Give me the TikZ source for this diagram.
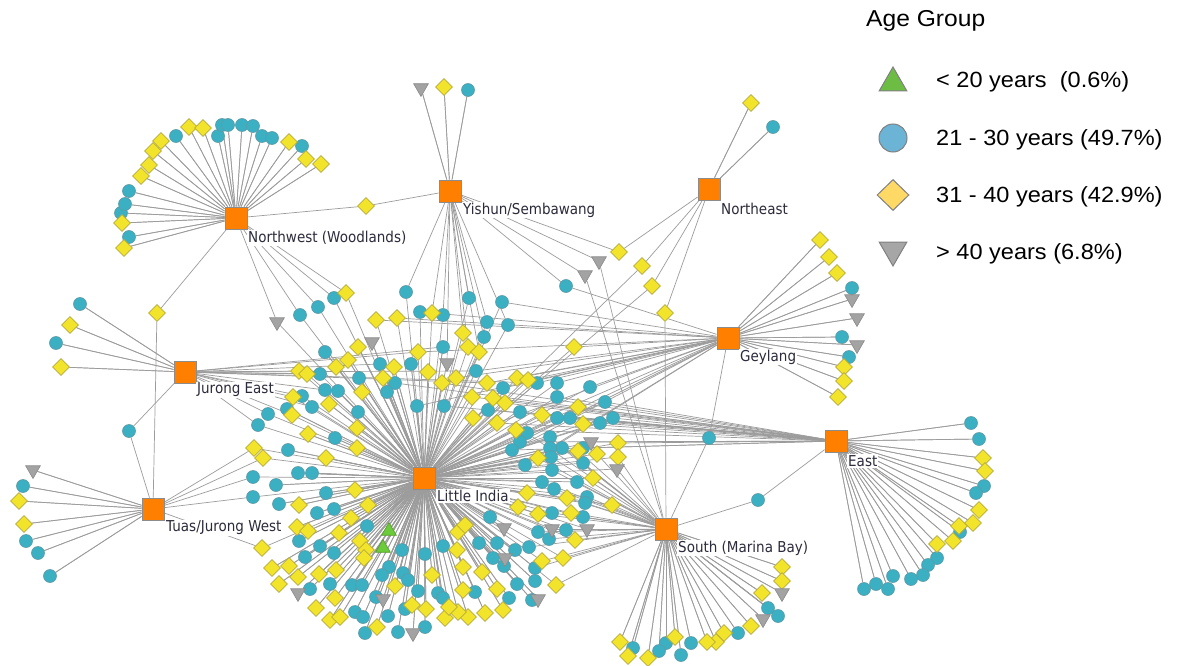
\documentclass[tikz,border=0pt]{standalone}
\usepackage{fontspec}
\usetikzlibrary{shapes.geometric}
\newfontfamily\lblfont{DejaVu Sans}[FakeStretch=0.9]
\newfontfamily\legfont{Liberation Sans}[FakeStretch=1.07]
\definecolor{hubor}{HTML}{FF8000}
\definecolor{hubbd}{HTML}{8C8C8C}
\definecolor{tealc}{HTML}{3BB0C3}
\definecolor{tealbd}{HTML}{5E9AA6}
\definecolor{yelc}{HTML}{F2E32B}
\definecolor{yelbd}{HTML}{B8AC3A}
\definecolor{grayc}{HTML}{A3A3A3}
\definecolor{graybd}{HTML}{8A8A8A}
\definecolor{greenc}{HTML}{6CCB3A}
\definecolor{greenbd}{HTML}{5A9A30}
\definecolor{edgec}{HTML}{9C9C9C}
\definecolor{lblc}{HTML}{2B2B3B}
\definecolor{lgreen}{HTML}{6DBD45}
\definecolor{lblue}{HTML}{6CB4D5}
\definecolor{lyel}{HTML}{FFD966}
\definecolor{lgray}{HTML}{A6A6A6}
\definecolor{lbd}{HTML}{808080}
\pgfdeclarelayer{back}
\pgfdeclarelayer{edgelayer}
\pgfsetlayers{back,edgelayer,main}
\def\circlist{
406/292/li/ys, 334/298/li/nw, 318/307/li/nw, 300/315/li/nw, 420/312/li/ge, 443/315/li/ys, 469/298/li/ys,
443/347/li/li, 325/352/li/li, 380/364/li/li, 411/364/li/li, 320/374/li/je, 359/378/li/li, 395/383/li/li,
387/392/li/li, 476/371/li/ge, 325/390/li/je, 338/391/li/li, 302/396/li/je, 312/407/li/je, 417/406/li/li,
444/406/li/ea, 268/414/li/je, 287/409/li/li, 358/412/li/li, 258/425/li/je, 335/438/li/li, 288/450/li/li,
502/302/li/ge, 566/286/ys/ge,
253/477/li/tu, 276/485/li/li, 298/473/li/li, 312/473/li/li, 253/497/li/tu, 279/504/li/li, 326/493/li/li,
317/513/li/li, 334/509/li/li, 367/526/li/li, 299/541/li/li, 320/546/li/li, 334/553/li/li, 305/557/li/li,
402/550/li/li, 425/554/li/li, 443/546/li/li, 389/567/li/li, 382/575/li/li, 403/573/li/li, 408/580/li/li,
330/584/li/li, 352/585/li/li, 362/585/li/li, 310/589/li/li, 376/597/li/li, 418/591/li/li, 438/593/li/li,
443/598/li/li, 405/609/li/li, 355/612/li/li, 363/617/li/li, 388/616/li/li, 425/627/li/li, 398/632/li/li,
365/633/li/li, 475/592/li/li, 479/543/li/li,
509/598/li/li, 517/584/li/li, 535/568/li/so, 535/581/li/li, 532/600/li/li, 493/558/li/li, 504/566/li/li,
497/543/li/li, 515/550/li/li, 529/547/li/so,
487/322/li/ys, 508/325/li/ys, 484/337/li/ys, 488/410/li/ea, 537/383/li/ge, 557/383/li/ge, 590/387/li/ge,
557/397/li/ea, 503/388/li/li, 605/402/li/ea, 520/412/li/ea, 557/418/li/ea, 570/418/li/ea, 600/423/li/ea,
613/418/li/ea, 527/433/li/so, 550/437/li/so, 562/448/li/so, 550/448/li/li, 583/448/li/ea, 520/442/li/li,
512/450/li/li, 551/457/li/so, 583/463/li/so, 525/465/li/li, 552/470/li/so, 542/482/li/so, 554/489/li/so,
577/482/li/so, 587/497/li/so, 585/503/li/so, 583/517/li/so, 566/530/li/so, 552/513/li/so, 490/517/li/li,
538/532/li/so, 549/539/li/so,
709/438/ge/so, 758/500/so/ea, 129/431/je/tu,
129/237/nw/nw, 121/213/nw/nw, 125/204/nw/nw, 129/191/nw/nw, 176/136/nw/nw, 218/136/nw/nw, 222/125/nw/nw,
228/125/nw/nw, 242/125/nw/nw, 253/126/nw/nw, 262/136/nw/nw, 272/138/nw/nw, 302/146/nw/nw,
468/90/ys/ys, 773/127/ne/ne,
852/288/ge/ge, 842/337/ge/ge, 849/357/ge/ge,
971/423/ea/ea, 979/439/ea/ea, 984/486/ea/ea, 976/493/ea/ea, 960/532/ea/ea, 937/558/ea/ea, 928/565/ea/ea,
923/575/ea/ea, 911/579/ea/ea, 893/576/ea/ea, 888/589/ea/ea, 876/584/ea/ea, 864/589/ea/ea,
768/608/so/so, 778/616/so/so, 738/633/so/so, 691/643/so/so, 681/655/so/so, 666/643/so/so, 659/651/so/so,
633/648/so/so,
80/304/je/je, 56/343/je/je,
23/486/tu/tu, 26/541/tu/tu, 38/553/tu/tu, 50/576/tu/tu}
\def\diamlist{
346/293/li/nw, 376/320/li/ge, 397/318/li/ge, 432/313/li/ys, 463/333/li/ys, 468/347/li/ys, 479/352/li/ys,
358/347/li/li, 348/360/li/li, 336/367/li/li, 299/371/li/je, 307/374/li/je, 394/367/li/li, 418/352/li/ge,
428/372/li/li, 383/378/li/li, 442/383/li/li, 456/378/li/ge, 362/392/li/li, 293/397/li/je, 472/397/li/ea,
329/404/li/li, 292/415/li/je, 473/418/li/li, 357/428/li/li, 308/434/li/li, 254/448/li/tu, 263/458/li/tu,
357/448/li/li, 326/458/li/li,
355/490/li/li, 368/505/li/li, 299/505/li/li, 351/518/li/li, 339/533/li/li, 297/527/li/li, 308/531/li/li,
360/541/li/li, 262/548/li/tu, 366/550/li/li, 364/558/li/li, 272/568/li/li, 289/566/li/li, 298/577/li/li,
319/574/li/li, 336/570/li/li, 279/584/li/li, 335/598/li/li, 316/608/li/li, 330/620/li/li, 340/617/li/li,
395/586/li/li, 377/627/li/li, 412/605/li/li, 426/609/li/li, 432/575/li/li, 458/532/li/li, 465/525/li/li,
457/550/li/li, 463/567/li/li, 463/590/li/li, 468/617/li/li, 458/612/li/li, 445/618/li/li, 449/607/li/li,
482/572/li/li, 497/589/li/li, 503/610/li/li, 485/613/li/li, 542/561/li/so, 563/558/li/so, 556/585/li/so,
665/313/ne/so, 574/347/li/ge, 487/383/li/ge, 517/378/li/ge, 528/380/li/ge, 493/398/li/ea, 505/403/li/ea,
542/415/li/ea, 578/407/li/ea, 583/424/li/ea, 497/423/li/li, 516/430/li/li, 538/458/li/so, 578/451/li/so,
597/454/li/so, 593/478/li/so, 618/443/li/ea, 618/457/li/so, 527/493/li/li, 518/507/li/li, 538/514/li/so,
567/498/li/so, 571/513/li/so, 612/505/li/so, 575/540/li/so,
619/252/ys/ne, 642/266/ne/li, 652/286/ne/li, 366/206/nw/ys, 157/313/nw/tu,
124/248/nw/nw, 122/223/nw/nw, 141/176/nw/nw, 149/165/nw/nw, 153/151/nw/nw, 161/141/nw/nw, 189/127/nw/nw,
203/128/nw/nw, 289/142/nw/nw, 306/159/nw/nw, 321/164/nw/nw,
444/87/ys/ys, 751/103/ne/ne,
820/240/ge/ge, 829/257/ge/ge, 837/273/ge/ge, 844/367/ge/ge, 844/381/ge/ge, 838/397/ge/ge,
983/458/ea/ea, 985/471/ea/ea, 979/510/ea/ea, 973/523/ea/ea, 959/526/ea/ea, 953/541/ea/ea, 937/544/ea/ea,
782/567/so/so, 782/581/so/so, 762/593/so/so, 751/626/so/so, 724/633/so/so, 716/642/so/so, 707/642/so/so,
675/637/so/so, 648/658/so/so, 628/656/so/so, 620/642/so/so,
70/325/je/je, 61/367/je/je,
19/501/tu/tu, 24/524/tu/tu}
\def\trilist{
277/322/nw/li, 372/342/li/li, 447/363/li/ys, 585/275/ys/so, 599/261/ys/so, 591/442/li/ea, 617/469/li/so,
587/529/li/so, 504/528/li/li, 552/529/li/so, 505/558/li/li, 538/599/li/li, 298/593/li/li, 383/599/li/li,
413/633/li/li, 421/88/ys/ys, 852/299/ge/ge, 857/318/ge/ge, 857/345/ge/ge, 782/593/so/so, 763/619/so/so,
33/470/tu/tu}
\def\greenlist{389/531/li/li, 383/548/li/li}
\def\extralist{je/c8, je/d14, je/c16, je/d75, je/c83, je/c10,
ge/c94, ge/c97, ge/c99, ge/c100, ge/c103, ge/d83, ge/d84, ge/c87, ge/c21,
ea/d83, ea/d84, ea/c99, ea/c100, ea/c14, ea/d17}
\begin{document}
\begin{tikzpicture}[x=1pt,y=-1pt,
  edge/.style={draw=edgec, line width=0.7pt},
  hubbox/.style={rectangle, fill=hubor, draw=hubbd, line width=0.8pt, minimum size=22pt, inner sep=0pt},
  circ/.style={circle, fill=tealc, draw=tealbd, line width=0.6pt, minimum size=13pt, inner sep=0pt},
  diam/.style={diamond, fill=yelc, draw=yelbd, line width=0.6pt, minimum size=17pt, inner sep=0pt},
  tridown/.style={regular polygon, regular polygon sides=3, shape border rotate=180, fill=grayc, draw=graybd, line width=0.6pt, minimum size=17pt, inner sep=0pt},
  triup/.style={regular polygon, regular polygon sides=3, fill=greenc, draw=greenbd, line width=0.6pt, minimum size=17pt, inner sep=0pt},
  lbl/.style={font=\lblfont\fontsize{15}{18}\selectfont, text=lblc, fill=white, inner sep=1pt, anchor=west},
  legtxt/.style={font=\legfont\fontsize{22}{26}\selectfont, text=black, inner sep=0pt, anchor=west},
  legshape/.style={draw=lbd, line width=1pt, inner sep=0pt}
]
\begin{pgfonlayer}{back}
\fill[white] (0,0) rectangle (1178,666);
\end{pgfonlayer}
\useasboundingbox (0,0) rectangle (1178,666);

% hubs
\node[hubbox] (nw) at (236,218) {};
\node[hubbox] (ys) at (450,191) {};
\node[hubbox] (ne) at (709,189) {};
\node[hubbox] (ge) at (728,338) {};
\node[hubbox] (je) at (185,372) {};
\node[hubbox] (ea) at (836,441) {};
\node[hubbox] (li) at (424,478) {};
\node[hubbox] (tu) at (153,509) {};
\node[hubbox] (so) at (666,529) {};

% leaf nodes
\foreach \x/\y/\p/\q [count=\i] in \circlist {\node[circ] (c\i) at (\x,\y) {};}
\foreach \x/\y/\p/\q [count=\i] in \diamlist {\node[diam] (d\i) at (\x,\y) {};}
\foreach \x/\y/\p/\q [count=\i] in \trilist {\node[tridown] (t\i) at (\x,\y) {};}
\foreach \x/\y/\p/\q [count=\i] in \greenlist {\node[triup] (g\i) at (\x,\y) {};}

% connectors
\begin{pgfonlayer}{edgelayer}
\foreach \x/\y/\p/\q [count=\i] in \circlist {\draw[edge] (\p) -- (c\i); \draw[edge] (\q) -- (c\i);}
\foreach \x/\y/\p/\q [count=\i] in \diamlist {\draw[edge] (\p) -- (d\i); \draw[edge] (\q) -- (d\i);}
\foreach \x/\y/\p/\q [count=\i] in \trilist {\draw[edge] (\p) -- (t\i); \draw[edge] (\q) -- (t\i);}
\foreach \x/\y/\p/\q [count=\i] in \greenlist {\draw[edge] (\p) -- (g\i);}
\foreach \p/\q in \extralist {\draw[edge] (\p) -- (\q);}
\end{pgfonlayer}

% hub labels
\node[lbl] (lnw) at (247,238) {Northwest (Woodlands)};
\node[lbl] (lys) at (462,210) {Yishun/Sembawang};
\node[lbl] (lne) at (720,209) {Northeast};
\node[lbl] (lge) at (739,357) {Geylang};
\node[lbl] (lje) at (196,390) {Jurong East};
\node[lbl] (lea) at (847,461) {East};
\node[lbl] (lli) at (436,496) {Little India};
\node[lbl] (ltu) at (165,528) {Tuas/Jurong West};
\node[lbl] (lso) at (677,548) {South (Marina Bay)};

% legend
\node[legtxt, font=\legfont\fontsize{23}{27}\selectfont] (lhead) at (866,21) {Age Group};
\node[legshape, regular polygon, regular polygon sides=3, fill=lgreen, minimum size=32pt] (lg1) at (893,83) {};
\node[legshape, circle, fill=lblue, minimum size=28pt] (lg2) at (893,138) {};
\node[legshape, diamond, fill=lyel, minimum width=32pt, minimum height=31pt] (lg3) at (893,195) {};
\node[legshape, regular polygon, regular polygon sides=3, shape border rotate=180, fill=lgray, minimum size=32pt] (lg4) at (893,250) {};
\node[legtxt] (lt1) at (936,82) {< 20 years\ \ (0.6\%)};
\node[legtxt] (lt2) at (936,140) {21 - 30 years (49.7\%)};
\node[legtxt] (lt3) at (936,197) {31 - 40 years (42.9\%)};
\node[legtxt] (lt4) at (936,254) {> 40 years (6.8\%)};
\end{tikzpicture}
\end{document}
